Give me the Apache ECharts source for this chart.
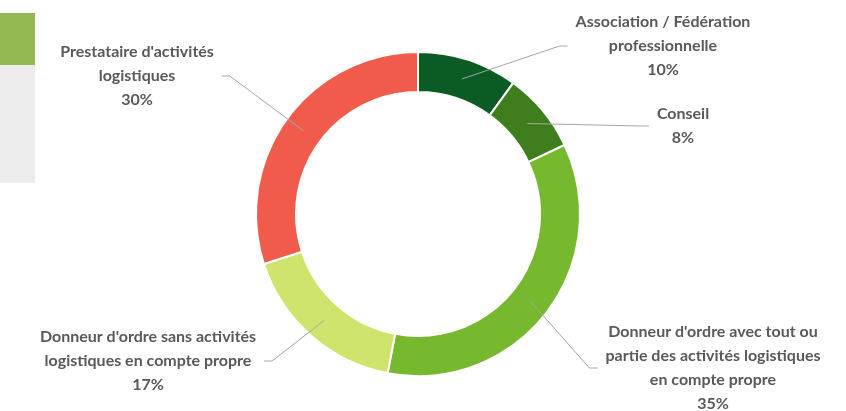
<!DOCTYPE html>
<html>
<head>
<meta charset="utf-8">
<script src="https://cdn.jsdelivr.net/npm/echarts@6/dist/echarts.min.js"></script>
<style>
html,body{margin:0;padding:0;background:#fff;}
#chart{width:846px;height:411px;}
</style>
</head>
<body>
<div id="chart"></div>
<script>
const categories = [
  "Association / Fédération\nprofessionnelle",
  "Conseil",
  "Donneur d'ordre avec tout ou\npartie des activités logistiques\nen compte propre",
  "Donneur d'ordre sans activités\nlogistiques en compte propre",
  "Prestataire d'activités\nlogistiques"
];
const values = [10, 8, 35, 17, 30];
const colors = ['#0b5c24', '#3f7e1c', '#76b82e', '#cfe46c', '#f15b4c'];
// label block centres (layout only)
const labelPos = [[663, 46], [683, 126], [713, 368], [148, 361], [137, 76]];

const data = categories.map((c, i) => ({ name: c, value: values[i] }));

const chart = echarts.init(document.getElementById('chart'));
chart.setOption({
  animation: false,
  backgroundColor: '#ffffff',
  graphic: [
    { type: 'rect', shape: { x: 0, y: 13, width: 35, height: 52 }, style: { fill: '#94b852' } },
    { type: 'rect', shape: { x: 0, y: 65, width: 35, height: 118 }, style: { fill: '#ededed' } }
  ],
  series: [
    {
      type: 'pie',
      center: [418, 214],
      radius: [122, 162],
      startAngle: 90,
      clockwise: true,
      silent: true,
      label: { show: false },
      labelLine: { show: false },
      itemStyle: {
        color: p => colors[p.dataIndex],
        borderColor: '#ffffff',
        borderWidth: 2
      },
      data: data
    },
    {
      type: 'pie',
      center: [418, 214],
      radius: [141, 142],
      startAngle: 90,
      clockwise: true,
      silent: true,
      z: 5,
      itemStyle: { color: 'rgba(0,0,0,0)', borderWidth: 0 },
      label: {
        show: true,
        position: 'outside',
        formatter: p => p.name + '\n' + p.value + '%',
        color: '#595959',
        fontFamily: 'Lato',
        fontWeight: 'bold',
        fontSize: 16,
        lineHeight: 24,
        align: 'center',
        padding: [0, 8]
      },
      labelLine: {
        show: true,
        length: 10,
        length2: 8,
        lineStyle: { color: '#a6a6a6', width: 1 }
      },
      labelLayout: p => ({
        x: labelPos[p.dataIndex][0],
        y: labelPos[p.dataIndex][1],
        align: 'center',
        verticalAlign: 'middle'
      }),
      data: data
    }
  ]
});
</script>
</body>
</html>
